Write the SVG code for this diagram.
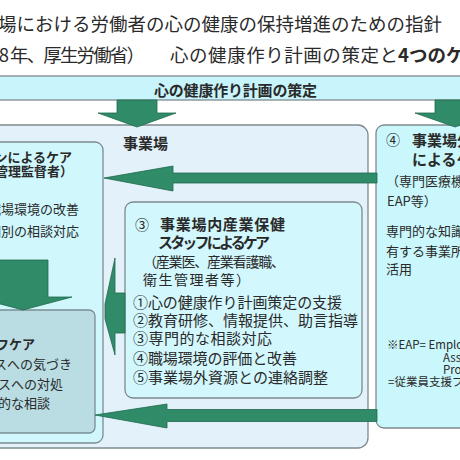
<svg xmlns="http://www.w3.org/2000/svg" width="460" height="460" viewBox="0 0 460 460">
<style>
text{font-family:"Noto Sans CJK JP","Noto Sans",sans-serif;fill:#2a2a2a}
.t{font-size:18.5px}
.b{font-weight:bold}
.s13{font-size:13px}
.s14{font-size:14px}
.s15{font-size:15px}
.s11{font-size:11.5px}
.box{stroke:#7f8a8f;stroke-width:1.3}
.arr{fill:#2f8b68;stroke:#21694d;stroke-width:0.8}
</style>
<rect width="460" height="460" fill="#ffffff"/>
<g id="title">
<text class="t" x="-20.5" y="30.5" textLength="462.5">職場における労働者の心の健康の保持増進のための指針</text>
<text class="t" x="9" y="62" text-anchor="end">（平成18</text>
<text class="t" x="10" y="62" textLength="135">年、厚生労働省）</text>
<text class="t" x="170" y="62" textLength="228">心の健康作り計画の策定と</text>
<text class="t b" x="398" y="62">4つのケア</text>
</g>
<g id="banner">
<rect x="-2" y="76" width="464" height="24" fill="#c8f5fb" class="box"/>
<text class="s15 b" x="235.5" y="95.5" text-anchor="middle" textLength="163">心の健康作り計画の策定</text>
</g>
<g id="jigyoba">
<rect x="-20" y="125" width="388" height="323" rx="10" fill="#e3f1fb" class="box"/>
<text class="s15 b" x="123" y="148.5">事業場</text>
</g>
<g id="care4">
<rect x="376" y="125" width="120" height="303" rx="8" fill="#c9f7fc" class="box"/>
<text class="s14" x="386" y="145">④</text>
<text class="s15 b" x="412" y="145.5">事業場外資源</text>
<text class="s15 b" x="412" y="164.5">によるケア</text>
<text class="s13" x="386" y="186">（専門医療機関、</text>
<text class="s13" x="387" y="206">EAP等）</text>
<text class="s13" x="386" y="236">専門的な知識を</text>
<text class="s13" x="386" y="256">有する事業所外資源の</text>
<text class="s13" x="386" y="274">活用</text>
<text class="s11" x="387" y="349">※EAP= Employee</text>
<text class="s11" x="443" y="361.5">Assistance</text>
<text class="s11" x="443" y="373.5">Program</text>
<text class="s11" x="388" y="386">=従業員支援プログラム</text>
</g>
<g id="care2">
<rect x="-20" y="142" width="123" height="301" rx="8" fill="#cff7fc" class="box"/>
<text class="s13 b" x="72" y="161.5" text-anchor="end">② ラインによるケア</text>
<text class="s13 b" x="73" y="176" text-anchor="end">（管理監督者）</text>
<text class="s13" x="79" y="214" text-anchor="end">・職場環境の改善</text>
<text class="s13" x="79" y="236" text-anchor="end">・個別の相談対応</text>
</g>
<g id="care1">
<rect x="-20" y="310" width="115" height="123" rx="6" fill="#b9dde3" stroke="#7a8f94" stroke-width="1.3"/>
<text class="s13 b" x="35" y="348.5" text-anchor="end">① セルフケア</text>
<text class="s13" x="72" y="368.5" text-anchor="end">・ストレスへの気づき</text>
<text class="s13" x="63" y="389" text-anchor="end">・ストレスへの対処</text>
<text class="s13" x="50" y="407.5" text-anchor="end">・自発的な相談</text>
</g>
<g id="care3">
<rect x="125" y="202" width="237" height="196" rx="8" fill="#d2f7fc" class="box"/>
<text class="s14" x="135" y="229.5">③</text>
<text class="s15 b" x="160" y="229.5" textLength="125">事業場内産業保健</text>
<text class="s15 b" x="158" y="248" textLength="112">スタッフによるケア</text>
<text class="s14" x="143" y="267" textLength="142">（産業医、産業看護職、</text>
<text class="s14" x="143" y="285" textLength="107">衛生管理者等）</text>
<text class="s15" x="133" y="308" textLength="209">①心の健康作り計画策定の支援</text>
<text class="s15" x="133" y="326" textLength="225">②教育研修、情報提供、助言指導</text>
<text class="s15" x="133" y="344" textLength="139">③専門的な相談対応</text>
<text class="s15" x="133" y="364" textLength="164">④職場環境の評価と改善</text>
<text class="s15" x="133" y="383" textLength="195">⑤事業場外資源との連絡調整</text>
</g>
<g id="connectors">
<polygon class="arr" points="117,100 157,100 157,113 176,113 137,127 98,113 117,113"/>
<polygon class="arr" points="435,100 475,100 475,113 494,113 455,127 415,113 435,113"/>
<polygon class="arr" points="104,178 173,166 173,173 377,173 377,183 173,183 173,191"/>
<polygon class="arr" points="95,415 167,404 167,409.5 377,409.5 377,421.5 167,421.5 167,428"/>
<polygon class="arr" points="-2,260 48,260 48,297 72,297 23,310 -26,297 -2,297"/>
<polygon class="arr" points="125,293 115,293 115,258 105,304 105,319 115,355 115,333 125,333"/>
</g>
</svg>
